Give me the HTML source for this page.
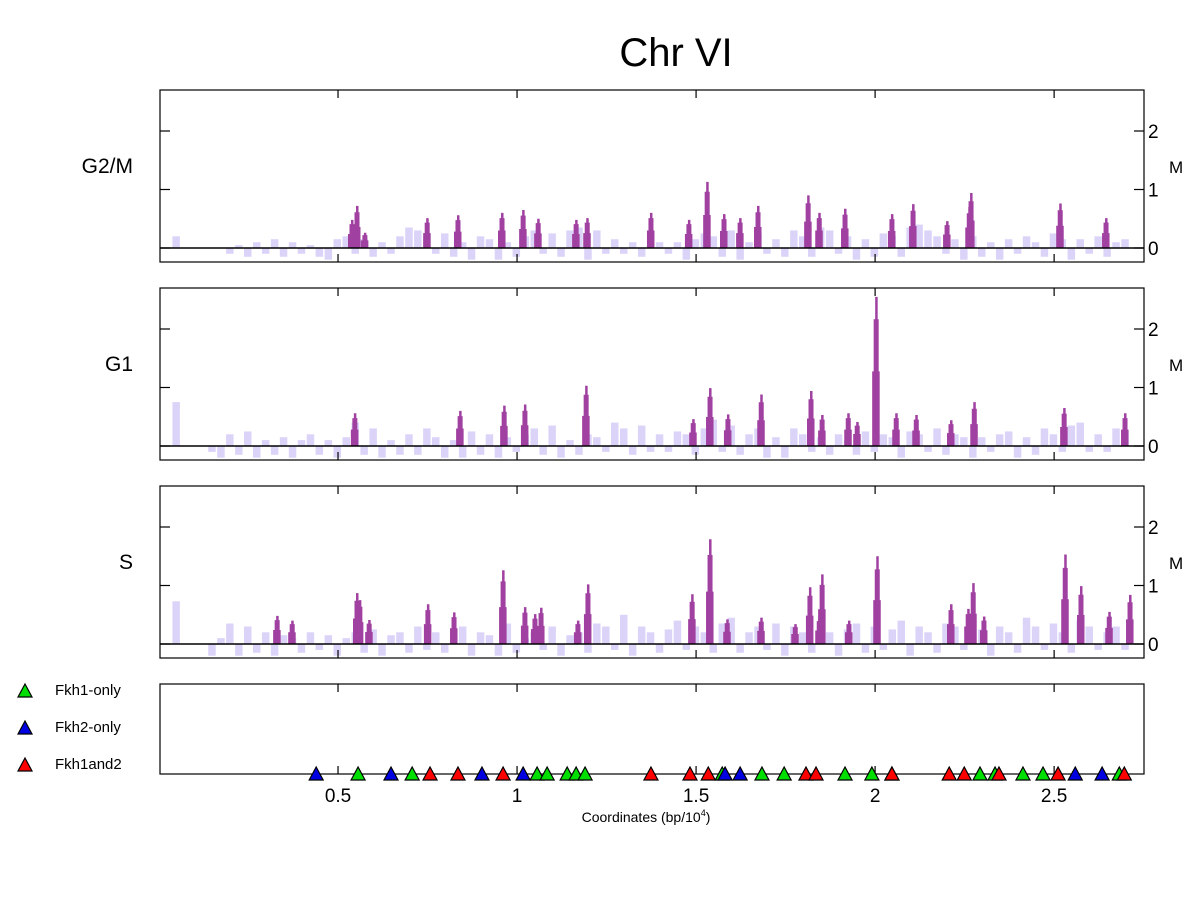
<!DOCTYPE html>
<html><head><meta charset="utf-8"><style>
html,body{margin:0;padding:0;background:#fff;}
svg{display:block;font-family:"Liberation Sans",sans-serif;}
</style></head><body>
<svg id="chart" width="1200" height="900" viewBox="0 0 1200 900"></svg>
<script>
// ---- data ----
const panelNames = ["G2/M","G1","S"];
const peaksG2M_x = [0.539,0.553,0.575,0.749,0.835,0.958,1.017,1.059,1.165,1.196,1.374,1.480,1.531,1.578,1.623,1.673,1.813,1.844,1.916,2.047,2.106,2.201,2.263,2.268,2.517,2.645];
const peaksG2M_y = [0.48,0.72,0.26,0.51,0.56,0.6,0.65,0.5,0.48,0.51,0.6,0.48,1.13,0.58,0.51,0.72,0.9,0.6,0.67,0.58,0.75,0.46,0.7,0.94,0.76,0.51];
const peaksG1_x = [0.547,0.841,0.964,1.022,1.193,1.492,1.539,1.589,1.682,1.821,1.852,1.925,1.950,2.003,2.059,2.115,2.212,2.277,2.528,2.698];
const peaksG1_y = [0.56,0.6,0.69,0.71,1.03,0.46,0.99,0.54,0.88,0.94,0.53,0.56,0.41,2.55,0.56,0.53,0.44,0.75,0.65,0.56];
const peaksS_x = [0.330,0.372,0.553,0.561,0.587,0.751,0.824,0.961,1.022,1.050,1.067,1.170,1.198,1.489,1.539,1.587,1.682,1.777,1.818,1.844,1.852,1.927,2.006,2.212,2.260,2.274,2.304,2.531,2.575,2.654,2.712];
const peaksS_y = [0.48,0.4,0.87,0.75,0.41,0.68,0.54,1.26,0.63,0.51,0.62,0.4,1.02,0.85,1.79,0.42,0.45,0.34,0.97,0.46,1.19,0.4,1.5,0.68,0.6,1.04,0.47,1.53,0.99,0.55,0.84];
const noiseG2M = [0.2,0,0,0,0,0,-0.1,0.05,-0.15,0.1,-0.1,0.15,-0.15,0.1,-0.1,0.05,-0.15,-0.2,0.15,0.2,-0.1,0.15,-0.15,0.1,-0.1,0.2,0.35,0.3,0.2,-0.1,0.25,-0.15,0.1,-0.2,0.2,0.15,-0.2,0.1,-0.15,0.2,0.3,-0.1,0.25,-0.15,0.3,0.35,-0.2,0.3,-0.1,0.15,-0.1,0.1,-0.15,0.05,0.1,-0.1,0.1,-0.2,0.15,0.25,0.2,-0.15,0.3,-0.2,0.1,0.25,-0.1,0.15,-0.15,0.3,0.2,-0.15,0.35,0.3,-0.1,0.2,-0.2,0.15,-0.15,0.25,0.2,-0.15,0.35,0.4,0.3,0.2,-0.1,0.15,-0.2,0.2,-0.15,0.1,-0.2,0.15,-0.1,0.2,0.1,-0.15,0.25,0.15,-0.2,0.15,-0.1,0.2,-0.15,0.1,0.15];
const noiseG1 = [0.75,0,0,0,-0.1,-0.2,0.2,-0.15,0.25,-0.2,0.1,-0.15,0.15,-0.2,0.1,0.2,-0.15,0.1,-0.2,0.15,0.4,-0.15,0.3,-0.2,0.1,-0.15,0.2,-0.15,0.3,0.15,-0.2,0.1,-0.2,0.25,-0.15,0.2,-0.2,0.15,-0.1,0.2,0.3,-0.15,0.35,-0.2,0.1,-0.15,0.2,0.15,-0.1,0.4,0.3,-0.15,0.35,-0.1,0.2,-0.1,0.25,0.2,-0.15,0.3,0.45,-0.1,0.35,-0.15,0.2,0.3,-0.2,0.15,-0.2,0.3,0.2,-0.1,0.15,-0.15,0.2,0.1,-0.15,0.25,-0.1,0.2,0.15,-0.2,0.25,0.2,-0.1,0.3,-0.15,0.2,0.15,-0.2,0.15,-0.1,0.2,0.25,-0.2,0.15,-0.15,0.3,0.2,-0.1,0.35,0.4,-0.1,0.2,-0.1,0.3,0.25];
const noiseS = [0.73,0,0,0,-0.2,0.1,0.35,-0.2,0.3,-0.15,0.2,-0.2,0.15,0.1,-0.15,0.2,-0.1,0.15,-0.2,0.1,0.2,-0.15,0.25,-0.2,0.15,0.2,-0.15,0.3,-0.1,0.2,-0.15,0.25,0.3,-0.2,0.2,0.15,-0.2,0.35,-0.15,0.1,0.2,-0.1,0.3,-0.2,0.15,0.2,-0.15,0.35,0.3,-0.1,0.5,-0.2,0.3,0.2,-0.15,0.25,0.4,-0.1,0.3,0.2,-0.15,0.35,0.45,-0.15,0.2,0.3,-0.1,0.35,-0.2,0.3,0.2,-0.15,0.3,0.2,-0.2,0.25,0.35,-0.15,0.3,-0.1,0.25,0.4,-0.2,0.3,0.2,-0.15,0.35,0.3,-0.1,0.4,0.25,-0.2,0.3,0.2,-0.15,0.45,0.3,-0.1,0.35,0.2,-0.15,0.4,0.3,-0.1,0.2,0.3,-0.1];
const sitesFkh1_x = [0.556,0.707,1.056,1.084,1.140,1.165,1.190,1.573,1.684,1.746,1.916,1.991,2.047,2.293,2.335,2.413,2.469,2.682];
const sitesFkh2_x = [0.439,0.648,0.902,1.017,1.581,1.623,2.559,2.634];
const sitesBoth_x = [0.757,0.835,0.961,1.374,1.483,1.534,1.807,1.835,2.047,2.207,2.249,2.346,2.511,2.696];
const xTicks = [0.5,1,1.5,2,2.5];
const xTickLabels = ["0.5","1","1.5","2","2.5"];
const yTicks = [0,1,2];
const yTickLabels = ["0","1","2"];

// ---- layout ----
const NS = "http://www.w3.org/2000/svg";
const svg = document.getElementById("chart");
const X0 = 160, X1 = 1144, XMIN = 0.0028, XMAX = 2.751;
const xs = v => X0 + (v - XMIN) / (XMAX - XMIN) * (X1 - X0);
const panels = [
  {top:90, bot:262, zero:248, peaksX:peaksG2M_x, peaksY:peaksG2M_y, noise:noiseG2M, key:"g2m"},
  {top:288, bot:460, zero:446, peaksX:peaksG1_x, peaksY:peaksG1_y, noise:noiseG1, key:"g1"},
  {top:486, bot:658, zero:644, peaksX:peaksS_x, peaksY:peaksS_y, noise:noiseS, key:"s"}
];
const UNIT = 58.5;
function mk(tag, attrs, parent){ const e=document.createElementNS(NS,tag); for(const k in attrs) e.setAttribute(k,attrs[k]); (parent||svg).appendChild(e); return e; }

const title = mk("text",{x:676,y:66,"text-anchor":"middle","font-size":40});
title.textContent = "Chr VI";



panels.forEach((p,pi)=>{
  const ys = v => p.zero - v*UNIT;
  const g = mk("g",{});
  
  
  const ng = mk("g",{fill:"#dcd4f8"},g);
  
  
  p.noise.forEach((v,i)=>{
    if(v===0) return;
    const c = 0.05 + i*0.025;
    const xa = xs(c-0.0125), xb = xs(c+0.0125);
    const y = ys(v);
    const r = mk("rect",{x:xa.toFixed(1), y:Math.min(y,p.zero).toFixed(1), width:(xb-xa-1.5).toFixed(1), height:Math.abs(p.zero-y).toFixed(1)},ng);
    
    
  });
  const pg = mk("g",{fill:"#a040a0"},g);
  
  
  p.peaksX.forEach((c,i)=>{
    const x = xs(c), yt = ys(p.peaksY[i]), yb = ys(p.peaksY[i]*0.85), ym = ys(p.peaksY[i]*0.5);
    const d = `M${x-4},${p.zero} L${x-4},${ym} L${x-2.5},${ym} L${x-2.5},${yb} L${x-1},${yb} L${x-1},${yt} L${x+1.5},${yt} L${x+1.5},${yb} L${x+2.5},${yb} L${x+2.5},${ym} L${x+3.5},${ym} L${x+3.5},${p.zero} Z`;
    const pk = mk("path",{d:d},pg);
    
    
  });
  mk("line",{x1:X0,x2:X1,y1:p.zero,y2:p.zero,stroke:"#000","stroke-width":1.5},g);
  const fr = mk("rect",{x:X0,y:p.top,width:X1-X0,height:p.bot-p.top,fill:"none",stroke:"#000","stroke-width":1.2},g);
  
  
  xTicks.forEach(t=>{
    mk("line",{x1:xs(t),x2:xs(t),y1:p.top,y2:p.top+8,stroke:"#000","stroke-width":1.2},g);
    mk("line",{x1:xs(t),x2:xs(t),y1:p.bot,y2:p.bot-8,stroke:"#000","stroke-width":1.2},g);
  });
  yTicks.forEach((t,i)=>{
    const y = ys(t);
    mk("line",{x1:X1,x2:X1-10,y1:y,y2:y,stroke:"#000","stroke-width":1.2},g);
    mk("line",{x1:X0,x2:X0+10,y1:y,y2:y,stroke:"#000","stroke-width":1.2},g);
    const tl = mk("text",{x:1148,y:y+7,"font-size":19},g);
    tl.textContent = yTickLabels[i];
    
    
  });
  const m = mk("text",{x:1169,y:p.zero-75,"font-size":17},g);
  m.textContent = "M";
  
  
  const lab = mk("text",{x:133,y:p.zero-75,"font-size":21,"text-anchor":"end"},g);
  lab.textContent = panelNames[pi];
  
  
});

const sp = mk("g",{});


const sf = mk("rect",{x:X0,y:684,width:X1-X0,height:90,fill:"none",stroke:"#000","stroke-width":1.2},sp);


xTicks.forEach((t,i)=>{
  mk("line",{x1:xs(t),x2:xs(t),y1:774,y2:766,stroke:"#000","stroke-width":1.2},sp);
  mk("line",{x1:xs(t),x2:xs(t),y1:684,y2:692,stroke:"#000","stroke-width":1.2},sp);
  const tl = mk("text",{x:xs(t),y:802,"font-size":19,"text-anchor":"middle"},sp);
  tl.textContent = xTickLabels[i];
  
  
});
function tri(x, base, color, parent){
  return mk("path",{d:`M${x-7},${base} L${x+7},${base} L${x},${base-13} Z`,fill:color,stroke:"#000","stroke-width":1.2},parent);
}
[[sitesFkh1_x,"#00e000","fkh1-only-site"],[sitesFkh2_x,"#0000e0","fkh2-only-site"],[sitesBoth_x,"#ff0000","fkh1and2-site"]].forEach(([arr,col,nm])=>{
  arr.forEach(c=>{
    const t = tri(xs(c),780,col,sp);
    
    
  });
});
const xl = mk("text",{x:646,y:822,"font-size":14,"text-anchor":"middle"},sp);
xl.innerHTML = 'Coordinates (bp/10<tspan font-size="9" dy="-6">4</tspan><tspan dy="6">)</tspan>';



const legItems = [["Fkh1-only","#00e000",697],["Fkh2-only","#0000e0",734],["Fkh1and2","#ff0000",771]];
legItems.forEach(([txt,col,y])=>{
  const lg = mk("g",{});
  
  
  tri(25,y,col,lg);
  const t = mk("text",{x:55,y:y-2,"font-size":15},lg);
  t.textContent = txt;
});
</script>
</body></html>
